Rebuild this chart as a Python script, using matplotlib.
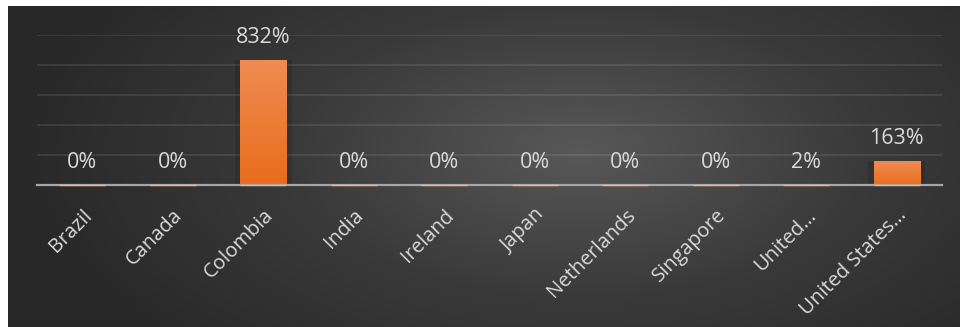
import numpy as np
import matplotlib
matplotlib.use("Agg")
import matplotlib.pyplot as plt
import matplotlib.transforms as mtransforms
from matplotlib.colors import LinearSegmentedColormap

categories = ["Brazil", "Canada", "Colombia", "India", "Ireland", "Japan",
              "Netherlands", "Singapore", "United…", "United States…"]
values = [0, 0, 832, 0, 0, 0, 0, 0, 2, 163]
labels = ["0%", "0%", "832%", "0%", "0%", "0%", "0%", "0%", "2%", "163%"]

W, H = 960, 327
fig = plt.figure(figsize=(W / 100, H / 100), dpi=100)
fig.patch.set_facecolor("white")
font = ["Open Sans", "DejaVu Sans"]

# background gradient panel
bg = fig.add_axes([8 / W, 0, (W - 8) / W, (H - 6) / H])
bg.set_axis_off()
ny, nx = 200, 600
yy, xx = np.mgrid[0:ny, 0:nx]
cx, cy = 0.6 * nx, 0.45 * ny
d = np.sqrt(((xx - cx) / (0.6 * nx)) ** 2 + ((yy - cy) / (0.9 * ny)) ** 2)
d = np.clip(d, 0, 1)
bgcmap = LinearSegmentedColormap.from_list("bg", ["#585858", "#3a3a3a", "#282828"])
bg.imshow(d, cmap=bgcmap, aspect="auto", extent=(0, 1, 0, 1), vmin=0, vmax=1)
bg.set_xlim(0, 1)
bg.set_ylim(0, 1)

ax = fig.add_axes([37 / W, (H - 185) / H, 905 / W, 150 / H])
ax.patch.set_alpha(0)
x = np.arange(len(categories))
bw = 0.51
ax.set_xlim(-0.5, len(categories) - 0.5)
ax.set_ylim(0, 1000)
ax.set_yticks([200, 400, 600, 800, 1000])
ax.yaxis.grid(True, color="#ffffff", alpha=0.09, linewidth=1.5)
ax.set_axisbelow(True)
for s in ["top", "right", "left", "bottom"]:
    ax.spines[s].set_visible(False)
ax.tick_params(axis="y", left=False, labelleft=False)

# bar shadows
ax.bar(x, values, width=bw + 0.12, color="#000000", alpha=0.12, zorder=2)
bars = ax.bar(x, values, width=bw, color="#ee7b30", zorder=3)
grad = LinearSegmentedColormap.from_list("bar", ["#e86d1d", "#f08c52"])
gimg = np.linspace(0, 1, 100).reshape(-1, 1)
for b, v in zip(bars, values):
    if v <= 0:
        continue
    x0 = b.get_x()
    im = ax.imshow(gimg, cmap=grad, aspect="auto", origin="lower",
                   extent=(x0, x0 + b.get_width(), 0, v), zorder=3.5)
    im.set_clip_path(b)
ax.set_xlim(-0.5, len(categories) - 0.5)
ax.set_ylim(0, 1000)

# baseline and zero markers
ax.axhline(0, color="#a6a6a6", linewidth=1.6, zorder=4, clip_on=False)
ax.hlines([0] * len(x), x - bw / 2, x + bw / 2, color="#f4b183",
          linewidth=1.0, zorder=5, clip_on=False)

for xi, v, lab in zip(x, values, labels):
    ax.annotate(lab, (xi, v), xytext=(0, 12), textcoords="offset pixels",
                ha="center", va="bottom", color="#d9d9d9", fontsize=15.5,
                family=font, zorder=6, annotation_clip=False)

ax.set_xticks(x)
ax.set_xticklabels(categories, rotation=45, ha="right", rotation_mode="anchor",
                   color="#d9d9d9", fontsize=14.5, family=font)
ax.tick_params(axis="x", bottom=False, pad=11)

fig.savefig("out.png", dpi=100, facecolor=fig.get_facecolor())
